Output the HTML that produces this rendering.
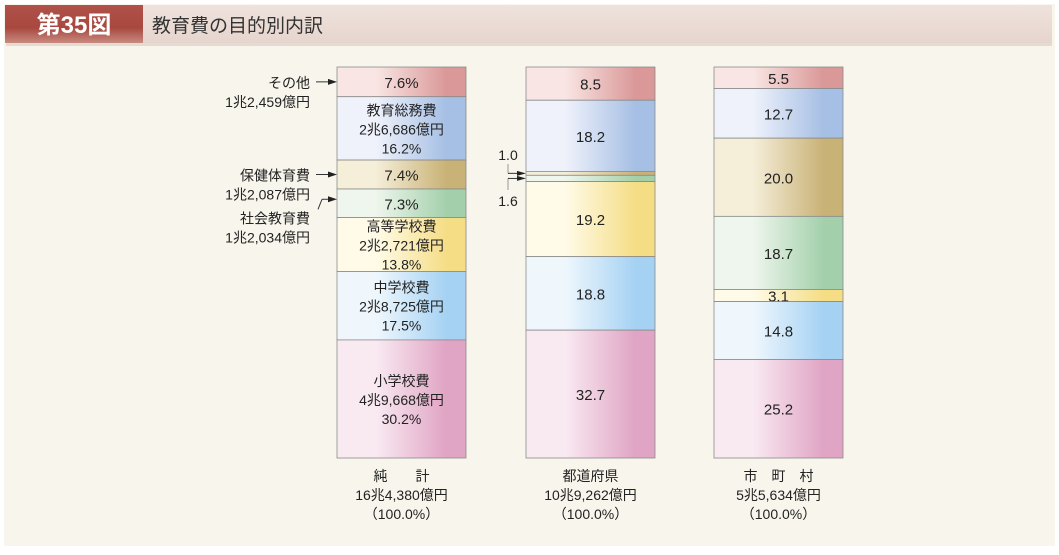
<!DOCTYPE html>
<html><head><meta charset="utf-8">
<style>
body{margin:0;width:1059px;height:550px;background:#fff;overflow:hidden;font-family:"Liberation Sans","Noto Sans CJK JP",sans-serif;}
</style></head>
<body>
<svg id="chart" width="1059" height="550" xmlns="http://www.w3.org/2000/svg" font-family="Liberation Sans, Noto Sans CJK JP, sans-serif">
<defs>
<linearGradient id="hdr" x1="0" y1="0" x2="0" y2="1"><stop offset="0" stop-color="#b0514a"/><stop offset="0.6" stop-color="#a8483f"/><stop offset="1" stop-color="#c98a80"/></linearGradient>
<linearGradient id="hdr2" x1="0" y1="0" x2="0" y2="1"><stop offset="0" stop-color="#efe2dc"/><stop offset="1" stop-color="#e6d5ce"/></linearGradient>
</defs>
<rect x="4" y="4" width="1051" height="542" fill="#f8f6ec"/>
<rect x="6" y="42" width="1046" height="4" fill="#ddd0c8" opacity="0.7"/>
<rect x="5" y="5" width="1047" height="38" fill="url(#hdr2)"/>
<rect x="5" y="5" width="138" height="38" fill="url(#hdr)"/>
<text x="74" y="33" text-anchor="middle" font-size="24" font-weight="bold" fill="#fff">第35図</text>
<text x="152" y="32" font-size="19" fill="#333">教育費の目的別内訳</text>
<g id="bars"></g>
</svg>
<script>
const categories = ["純　　計","都道府県","市　町　村"];
const totals = ["16兆4,380億円","10兆9,262億円","5兆5,634億円"];
const segNames = ["その他","教育総務費","保健体育費","社会教育費","高等学校費","中学校費","小学校費"];
const netShares = [7.6,16.2,7.4,7.3,13.8,17.5,30.2];
const prefShares = [8.5,18.2,1.0,1.6,19.2,18.8,32.7];
const muniShares = [5.5,12.7,20.0,18.7,3.1,14.8,25.2];
const netAmounts = ["1兆2,459億円","2兆6,686億円","1兆2,087億円","1兆2,034億円","2兆2,721億円","2兆8,725億円","4兆9,668億円"];
const series = [netShares, prefShares, muniShares];
const colors = [["#f9e6e4","#da9898"],["#eff2fb","#a6bfe4"],["#f5eed9","#c9b276"],["#eff6ed","#a3d0ab"],["#fffbe8","#f5dd86"],["#eff7fd","#a5d2f3"],["#f9eaf2","#e0a4c4"]];
const barX = [337,526,714], barW = 129, yTop = 67, yBottom = 458;
const yScale = v => v/100*(yBottom-yTop);
const svg = document.getElementById('chart');
const defs = svg.querySelector('defs');
const g = document.getElementById('bars');
const NS = "http://www.w3.org/2000/svg";
function mk(tag, attrs, parent){const e=document.createElementNS(NS,tag);for(const k in attrs)e.setAttribute(k,attrs[k]);(parent||g).appendChild(e);return e;}
colors.forEach((c,i)=>{
  const lg=mk('linearGradient',{id:'gr'+i,x1:0,y1:0,x2:1,y2:0},defs);
  mk('stop',{offset:0,'stop-color':c[0]},lg);
  mk('stop',{offset:0.3,'stop-color':c[0]},lg);
  mk('stop',{offset:0.85,'stop-color':c[1]},lg);
  mk('stop',{offset:1,'stop-color':c[1]},lg);
});
function txt(x,y,s,size,anchor,name){const t=mk('text',{x:x,y:y,'font-size':size,'text-anchor':anchor||'middle',fill:'#222'});t.textContent=s;


return t;}
series.forEach((vals,b)=>{
  let y=yTop;
  vals.forEach((v,i)=>{
    const h=yScale(v);
    const r=mk('rect',{x:barX[b],y:y,width:barW,height:h,fill:'url(#gr'+i+')',stroke:'#8a8a8a','stroke-width':0.8});
    
    
    const cx=barX[b]+barW/2, cy=y+h/2;
    if(b===0){
      if(i===0||i===2||i===3){txt(cx,cy+6,v.toFixed(1)+"%",15,'middle','segment-label');}
      else{txt(cx,cy-13,segNames[i],14,'middle','segment-label');txt(cx,cy+6,netAmounts[i],14,'middle','segment-label');txt(cx,cy+25,v.toFixed(1)+"%",14,'middle','segment-label');}
    } else if(!(b===1&&(i===2||i===3))){
      txt(cx,cy+6,v.toFixed(1),15,'middle','segment-label');
    }
    y+=h;
  });
  const cx=barX[b]+barW/2;
  txt(cx,481,categories[b],14,'middle','category-label');
  txt(cx,500,totals[b],14,'middle','total-label');
  txt(cx,519,"（100.0%）",14,'middle','percent-label');
});
function cum(vals,n){let s=0;for(let i=0;i<n;i++)s+=vals[i];return s;}
const ann=[[0,"その他",netAmounts[0]],[2,"保健体育費",netAmounts[2]],[3,"社会教育費",netAmounts[3]]];
ann.forEach(([i,n,a])=>{
  const ym=yTop+yScale(cum(netShares,i)+netShares[i]/2);
  let ty = i===3 ? ym+20 : ym+6;
  txt(310,ty,n,14,'end','annotation-name');
  txt(310,ty+19,a,14,'end','annotation-amount');
  const ly = i===3? ym-4 : ym;
  if(i===3){
    mk('line',{x1:318,y1:ym+6,x2:322,y2:ly,stroke:'#333','stroke-width':1});
    mk('line',{x1:322,y1:ly,x2:333,y2:ly,stroke:'#333','stroke-width':1});
  } else {
    mk('line',{x1:316,y1:ly,x2:333,y2:ly,stroke:'#333','stroke-width':1});
  }
  mk('polygon',{points:`337,${ly} 328,${ly-3} 328,${ly+3}`,fill:'#222'});
});
const y1=yTop+yScale(cum(prefShares,2)+prefShares[2]/2);
const y2=yTop+yScale(cum(prefShares,3)+prefShares[3]/2);
txt(508,160,prefShares[2].toFixed(1),14,'middle','small-segment-label');
txt(508,206,prefShares[3].toFixed(1),14,'middle','small-segment-label');
mk('line',{x1:508,y1:164,x2:508,y2:y1,stroke:'#999'});
mk('line',{x1:508,y1:y1,x2:520,y2:y1,stroke:'#333'});
mk('polygon',{points:`526,${y1} 517,${y1-2.5} 517,${y1+2.5}`,fill:'#222'});
mk('line',{x1:508,y1:y2,x2:508,y2:190,stroke:'#999'});
mk('line',{x1:508,y1:y2,x2:520,y2:y2,stroke:'#333'});
mk('polygon',{points:`526,${y2} 517,${y2-2.5} 517,${y2+2.5}`,fill:'#222'});
</script>
</body></html>
